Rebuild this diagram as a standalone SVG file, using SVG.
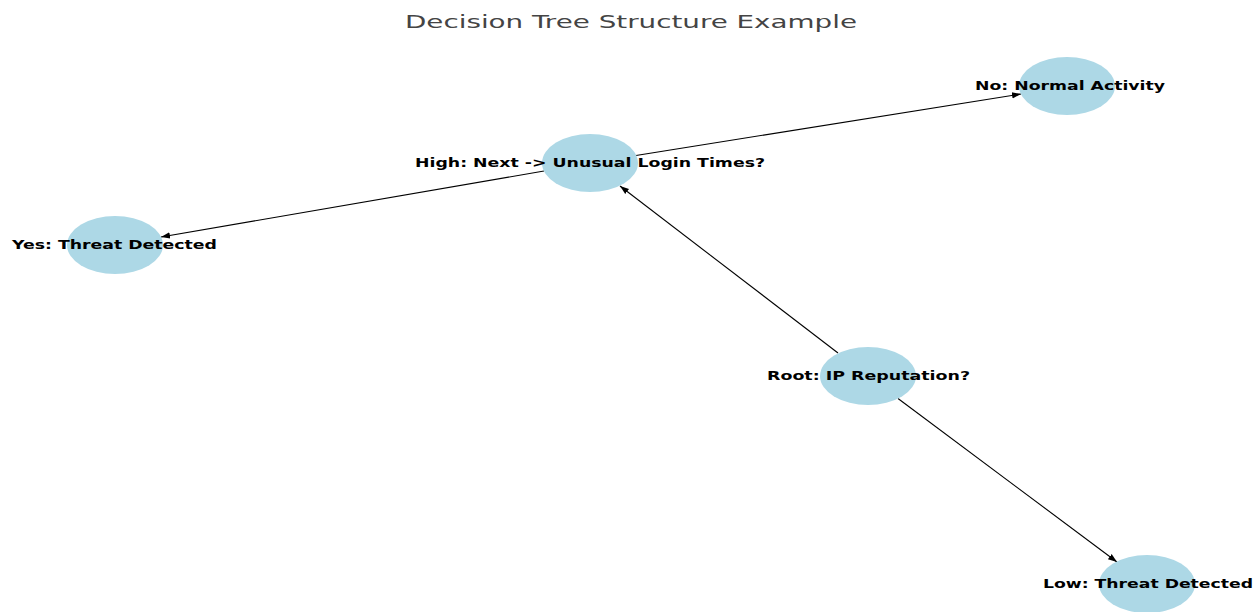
<svg xmlns="http://www.w3.org/2000/svg" width="1258" height="612" viewBox="0 0 1258 612">
<style>
.node{fill:#add8e6;stroke:none}
.lbl{font-family:"DejaVu Sans",sans-serif;font-weight:bold;font-size:12px;fill:#000;text-anchor:middle;dominant-baseline:central}
.edge{stroke:#000;stroke-width:1.1;fill:none;marker-end:url(#arr)}
.title{font-family:"DejaVu Sans",sans-serif;font-size:18px;fill:#444;text-anchor:middle}
</style>
<defs>
<marker id="arr" viewBox="0 0 10 10" refX="10" refY="5" markerWidth="9" markerHeight="9" markerUnits="userSpaceOnUse" orient="auto">
<path d="M0,1.5 L10,5 L0,8.5 Z" fill="#000"/>
</marker>
</defs>
<rect width="1258" height="612" fill="#fff"/>
<text class="title" x="631" y="28" textLength="452" lengthAdjust="spacingAndGlyphs">Decision Tree Structure Example</text>
<g id="connectors">
<line class="edge" x1="838" y1="353" x2="620" y2="186"/>
<line class="edge" x1="636" y1="155.5" x2="1021" y2="94"/>
<line class="edge" x1="544" y1="171" x2="161" y2="237"/>
<line class="edge" x1="898" y1="398.5" x2="1117" y2="562"/>
</g>
<g id="node-root"><ellipse class="node" cx="868" cy="376" rx="48" ry="29"/><text class="lbl" x="868.5" y="376" textLength="203" lengthAdjust="spacingAndGlyphs">Root: IP Reputation?</text></g>
<g id="node-high"><ellipse class="node" cx="590" cy="163" rx="48" ry="29"/><text class="lbl" x="590" y="163" textLength="350" lengthAdjust="spacingAndGlyphs">High: Next -&gt; Unusual Login Times?</text></g>
<g id="node-no"><ellipse class="node" cx="1067" cy="86" rx="48" ry="29"/><text class="lbl" x="1070" y="86" textLength="190" lengthAdjust="spacingAndGlyphs">No: Normal Activity</text></g>
<g id="node-yes"><ellipse class="node" cx="115" cy="245" rx="48" ry="29"/><text class="lbl" x="114.5" y="245" textLength="205" lengthAdjust="spacingAndGlyphs">Yes: Threat Detected</text></g>
<g id="node-low"><ellipse class="node" cx="1147" cy="584" rx="48" ry="29"/><text class="lbl" x="1148" y="584" textLength="210" lengthAdjust="spacingAndGlyphs">Low: Threat Detected</text></g>
</svg>
